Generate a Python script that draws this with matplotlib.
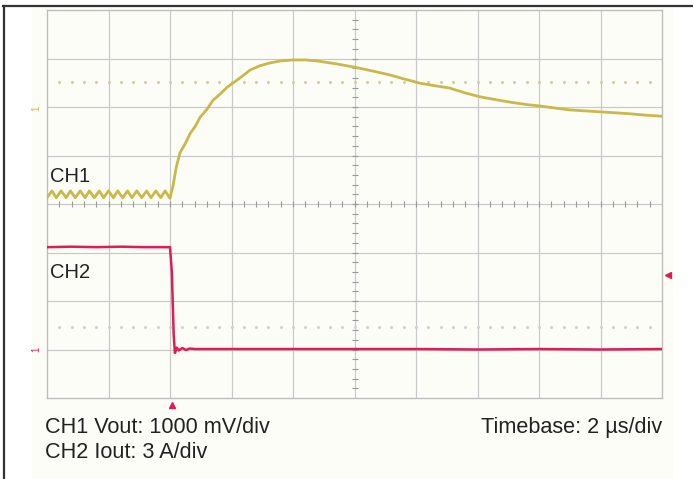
import matplotlib
matplotlib.use("Agg")
from matplotlib import pyplot as plt
from matplotlib.patches import Rectangle
from matplotlib.lines import Line2D

plt.rcParams['font.family'] = ['Liberation Sans', 'DejaVu Sans']

# screen is 10 x 8 divisions, time in divisions from the left edge
# CH1 (Vout) - ripple before the step, then the overshoot
ch1_t = [0.00, 0.08, 0.15, 0.23, 0.31, 0.38, 0.46, 0.54, 0.62, 0.69,
         0.77, 0.85, 0.92, 1.00, 1.08, 1.15, 1.23, 1.31, 1.38, 1.46,
         1.54, 1.62, 1.69, 1.77, 1.85, 1.92, 2.00,
         2.05, 2.10, 2.16, 2.25, 2.33, 2.41, 2.49, 2.60, 2.70, 2.81,
         2.93, 3.03, 3.14, 3.30, 3.46, 3.63, 3.80, 4.00, 4.20, 4.39,
         4.70, 5.01, 5.30, 5.58, 5.80, 6.07, 6.30, 6.55, 6.80, 7.04,
         7.30, 7.53, 7.80, 8.02, 8.25, 8.50, 8.75, 8.99, 9.25, 9.48,
         9.75, 10.00]
ch1_v = [4.13, 4.27, 4.13, 4.27, 4.13, 4.27, 4.13, 4.27, 4.13, 4.27,
         4.13, 4.27, 4.13, 4.27, 4.13, 4.27, 4.13, 4.27, 4.13, 4.27,
         4.13, 4.27, 4.13, 4.27, 4.13, 4.27, 4.12,
         4.38, 4.75, 5.05, 5.25, 5.46, 5.60, 5.79, 5.95, 6.14, 6.26,
         6.41, 6.50, 6.60, 6.76, 6.85, 6.91, 6.95, 6.97, 6.97, 6.95,
         6.89, 6.82, 6.74, 6.66, 6.58, 6.49, 6.44, 6.39, 6.29, 6.21,
         6.15, 6.10, 6.05, 6.02, 5.98, 5.94, 5.92, 5.90, 5.88, 5.86,
         5.83, 5.81]

# CH2 (Iout) - load release
ch2_t = [0.00, 0.40, 0.80, 1.20, 1.60, 2.00, 2.03, 2.06, 2.08, 2.11,
         2.14, 2.20, 2.26, 2.32, 2.40, 3.00, 4.00, 5.00, 6.00, 7.00,
         8.00, 9.00, 10.00]
ch2_i = [3.11, 3.12, 3.11, 3.12, 3.11, 3.11, 2.60, 1.30, 0.93, 1.04,
         0.98, 1.03, 0.99, 1.02, 1.01, 1.01, 1.01, 1.01, 1.01, 1.00,
         1.01, 1.00, 1.01]

ch1_ground = 5.98
ch2_ground = 1.01
ch1_level = 6.52
ch2_level = 1.46
trig_t = 2.03
ch2_marker = 2.54

yellow = '#cbb84a'
red = '#e01c58'
grid_c = '#c9c9c9'

fig = plt.figure(figsize=(6.93, 4.79), dpi=100)
fig.patch.set_facecolor('white')

# cream panel and frame lines
fig.add_artist(Rectangle((32 / 693, 0), 640 / 693, 1 - 8 / 479,
                         transform=fig.transFigure, color='#fdfdf8', zorder=-5))
fig.add_artist(Line2D([3 / 693, 1], [1 - 6 / 479, 1 - 6 / 479],
                      transform=fig.transFigure, color='#333333', lw=1.6))
fig.add_artist(Line2D([4 / 693, 4 / 693], [0, 1 - 6 / 479],
                      transform=fig.transFigure, color='#333333', lw=1.6))

ax = fig.add_axes([47 / 693, 1 - 398 / 479, 615 / 693, 388 / 479])
ax.set_facecolor('#fdfdf8')
ax.set_xlim(0, 10)
ax.set_ylim(0, 8)
ax.set_xticks([])
ax.set_yticks([])
for s in ax.spines.values():
    s.set_color('#bdbdbd')
    s.set_linewidth(1)

for gx in range(1, 10):
    ax.axvline(gx, color=grid_c, lw=0.9, zorder=1)
for gy in range(1, 8):
    ax.axhline(gy, color=grid_c, lw=0.9, zorder=1)

# minor ticks on the centre cross
minor_x = [i / 5 for i in range(1, 50)]
minor_y = [i / 5 for i in range(1, 40)]
ax.plot(minor_x, [4] * len(minor_x), ls='none', marker='|', ms=4,
        color='#9a9a9a', mew=0.8, zorder=2)
ax.plot([5] * len(minor_y), minor_y, ls='none', marker='_', ms=4,
        color='#9a9a9a', mew=0.8, zorder=2)

# dotted level lines
ax.plot(minor_x, [ch1_level] * len(minor_x), ls='none', marker='.', ms=2.5,
        color='#d6cf9f', zorder=2)
ax.plot(minor_x, [ch2_level] * len(minor_x), ls='none', marker='.', ms=2.5,
        color='#d2d2d2', zorder=2)

ax.plot(ch1_t, ch1_v, color=yellow, lw=2.0, zorder=4, solid_joinstyle='round')
ax.plot(ch2_t, ch2_i, color=red, lw=1.8, zorder=4)

ax.text(0.05, 4.45, 'CH1', fontsize=14.5, color='#222222', va='baseline', zorder=5)
ax.text(0.05, 2.47, 'CH2', fontsize=14.5, color='#222222', va='baseline', zorder=5)

# ground markers and trigger markers
ax.text(-0.17, ch1_ground, '1', rotation=90, fontsize=7, color=yellow,
        ha='center', va='center', clip_on=False)
ax.text(-0.17, ch2_ground, '1', rotation=90, fontsize=7, color=red,
        ha='center', va='center', clip_on=False)
ax.plot([10.09], [ch2_marker], marker='<', ms=4, color=red, clip_on=False)
ax.plot([trig_t], [-0.15], marker='^', ms=4, color=red, clip_on=False)

fig.text(45 / 693, 1 - 433 / 479, 'CH1 Vout: 1000 mV/div', fontsize=15.6,
         color='#222222', va='baseline', ha='left')
fig.text(45 / 693, 1 - 458 / 479, 'CH2 Iout: 3 A/div', fontsize=15.6,
         color='#222222', va='baseline', ha='left')
fig.text(662 / 693, 1 - 433 / 479, 'Timebase: 2 \u00b5s/div', fontsize=15.6,
         color='#222222', va='baseline', ha='right')

fig.savefig('out.png', dpi=100, facecolor=fig.get_facecolor())
